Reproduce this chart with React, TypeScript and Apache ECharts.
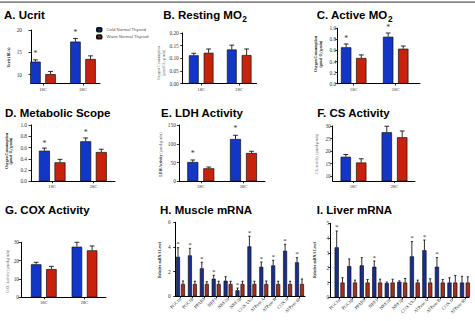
import React, { useEffect, useRef } from 'react';
import * as echarts from 'echarts';

// ---- categories ----
const tempGroups = ['18C', '28C'];
const genes = ['PGC1α', 'PGC1β', 'PPARδ', 'NRF1', 'NRF2α', 'NRF2β', 'COX Vb2', 'ATPase A', 'ATPase B', 'COX II', 'ATPase 6b'];

// ---- A. Ucrit (BL/s) ----
const ucritCold = [12.9, 17.4];
const ucritColdSem = [0.4, 0.7];
const ucritWarm = [10.1, 13.5];
const ucritWarmSem = [0.6, 0.7];
const ucritStars = [1, 1];
const ucritTicks = [10, 15, 20];

// ---- B. Resting MO2 ----
const restCold = [0.112, 0.135];
const restColdSem = [0.008, 0.017];
const restWarm = [0.122, 0.113];
const restWarmSem = [0.015, 0.024];
const restStars = [0, 0];
const restTicks = [0, 0.05, 0.1, 0.15, 0.2];

// ---- C. Active MO2 ----
const activeCold = [0.657, 0.848];
const activeColdSem = [0.06, 0.067];
const activeWarm = [0.464, 0.632];
const activeWarmSem = [0.056, 0.048];
const activeStars = [1, 1];
const fractionTicks = [0, 0.2, 0.4, 0.6, 0.8, 1.0];

// ---- D. Metabolic Scope ----
const scopeCold = [0.543, 0.71];
const scopeColdSem = [0.047, 0.06];
const scopeWarm = [0.337, 0.52];
const scopeWarmSem = [0.053, 0.05];
const scopeStars = [1, 1];

// ---- E. LDH Activity ----
const ldhCold = [51.4, 112.7];
const ldhColdSem = [5.4, 9.9];
const ldhWarm = [34.6, 75.4];
const ldhWarmSem = [3.4, 4.6];
const ldhStars = [1, 1];
const ldhTicks = [0, 50, 100, 150];

// ---- F. CS Activity ----
const csCold = [17.7, 27.5];
const csColdSem = [0.9, 2.4];
const csWarm = [15.4, 25.5];
const csWarmSem = [1.5, 2.5];
const csStars = [0, 0];
const csTicks = [10, 15, 20, 25, 30];

// ---- G. COX Activity ----
const coxCold = [18.0, 27.6];
const coxColdSem = [1.1, 2.4];
const coxWarm = [15.4, 25.6];
const coxWarmSem = [1.5, 2.4];
const coxStars = [0, 0];
const coxTicks = [0, 10, 20, 30];

// ---- H. Muscle mRNA ----
const muscleCold = [3.21, 3.32, 2.27, 1.43, 1.27, 0.49, 4.05, 2.4, 2.51, 3.7, 2.76];
const muscleColdSem = [0.73, 0.57, 0.49, 0.27, 0.32, 0.18, 0.82, 0.38, 0.41, 0.52, 0.37];
const muscleWarm = [1, 1, 1, 1, 1, 1, 1, 1, 1, 1, 1];
const muscleWarmSem = [0.24, 0.22, 0.18, 0.22, 0.22, 0.22, 0.22, 0.24, 0.22, 0.22, 0.4];
const muscleStars = [1, 1, 1, 1, 0, 1, 1, 1, 1, 1, 1];
const muscleTicks = [0, 2, 4, 6];

// ---- I. Liver mRNA ----
const liverCold = [3.38, 2.11, 2.16, 2.07, 0.97, 1.05, 2.77, 3.18, 2.07, 1.0, 1.0];
const liverColdSem = [1.1, 0.48, 0.52, 0.38, 0.06, 0.06, 0.99, 0.69, 0.61, 0.32, 0.42];
const liverWarm = [1, 1, 1, 1, 1, 1, 1, 1, 1, 1, 1];
const liverWarmSem = [0.32, 0.16, 0.2, 0.22, 0.22, 0.27, 0.16, 0.25, 0.2, 0.47, 0.38];
const liverStars = [1, 0, 0, 1, 0, 0, 1, 1, 1, 0, 0];
const liverTicks = [0, 1, 2, 3, 4, 5];

const SERIF = '"Liberation Serif", "Times New Roman", serif';
const SANS = '"Liberation Sans", Arial, Helvetica, sans-serif';
const TITLE_SIZE = 11.5;
const PALETTES = [
  ['#1237c6', '#c9220c'],
  ['#1a2e92', '#a82e1c'],
];

type Panel = {
  title: string; sub?: string; titleX: number; titleMid: number;
  yName: string; yNameX: number; yNameY: number; yNameBold: boolean; yNameRich?: boolean;
  cats: string[]; cold: number[]; coldSem: number[]; warm: number[]; warmSem: number[]; stars: number[];
  ymin: number; ymax: number; ticks: number[]; dec: number;
  left: number; right: number; top: number; bottom: number; c0: number; step: number;
  barW: number; gap: number; labelGap: number; starGap: number; cap: number; rotate?: number; palette: number;
};

const panels: Panel[] = [
  { title: 'A. Ucrit', titleX: 4, titleMid: 15, yName: 'Ucrit (BL/s)', yNameX: 8.7, yNameY: 57.5, yNameBold: true,
    cats: tempGroups, cold: ucritCold, coldSem: ucritColdSem, warm: ucritWarm, warmSem: ucritWarmSem, stars: ucritStars,
    ymin: 8, ymax: 20, ticks: ucritTicks, dec: 0,
    left: 31, right: 100, top: 30, bottom: 83.5, c0: 43, step: 40, barW: 10.5, gap: 4.6, labelGap: 9, starGap: 7, cap: 2.4, palette: 0 },
  { title: 'B. Resting MO', sub: '2', titleX: 163.3, titleMid: 15, yName: 'Oxygen Consumption\n(µmol O₂/g min)', yNameX: 161.7, yNameY: 63, yNameBold: false,
    cats: tempGroups, cold: restCold, coldSem: restColdSem, warm: restWarm, warmSem: restWarmSem, stars: restStars,
    ymin: 0, ymax: 0.2, ticks: restTicks, dec: 2,
    left: 182.7, right: 256.7, top: 33, bottom: 83.7, c0: 201.2, step: 38, barW: 9.8, gap: 5, labelGap: 4, starGap: 7, cap: 2.4, palette: 0 },
  { title: 'C. Active MO', sub: '2', titleX: 316.7, titleMid: 15, yName: 'Oxygen Consumption\n(µmol O₂/g min)', yNameX: 318.3, yNameY: 54, yNameBold: true,
    cats: tempGroups, cold: activeCold, coldSem: activeColdSem, warm: activeWarm, warmSem: activeWarmSem, stars: activeStars,
    ymin: 0, ymax: 1, ticks: fractionTicks, dec: 1,
    left: 337.7, right: 420, top: 28.3, bottom: 83.7, c0: 353.7, step: 42, barW: 10.4, gap: 4.7, labelGap: 1.5, starGap: 6.5, cap: 2.4, palette: 0 },
  { title: 'D. Metabolic Scope', titleX: 5, titleMid: 113.3, yName: 'Oxygen Consumption\n(µmol O₂/g min)', yNameX: 9.2, yNameY: 151, yNameBold: true,
    cats: tempGroups, cold: scopeCold, coldSem: scopeColdSem, warm: scopeWarm, warmSem: scopeWarmSem, stars: scopeStars,
    ymin: 0, ymax: 1, ticks: fractionTicks, dec: 1,
    left: 31, right: 115, top: 125, bottom: 181.3, c0: 52.2, step: 41.3, barW: 11, gap: 4.6, labelGap: 4, starGap: 6, cap: 2.4, palette: 0 },
  { title: 'E. LDH Activity', titleX: 161, titleMid: 113.3, yName: '{b|LDH Activity} {r|(µmol/g min)}', yNameX: 161, yNameY: 154.7, yNameBold: true, yNameRich: true,
    cats: tempGroups, cold: ldhCold, coldSem: ldhColdSem, warm: ldhWarm, warmSem: ldhWarmSem, stars: ldhStars,
    ymin: 0, ymax: 150, ticks: ldhTicks, dec: 0,
    left: 179.3, right: 265, top: 125, bottom: 181.3, c0: 200.8, step: 42.7, barW: 11, gap: 5, labelGap: 3.5, starGap: 7.5, cap: 2.4, palette: 0 },
  { title: 'F. CS Activity', titleX: 317.3, titleMid: 113.3, yName: 'CS Activity (µmol/g min)', yNameX: 317.3, yNameY: 154, yNameBold: false,
    cats: tempGroups, cold: csCold, coldSem: csColdSem, warm: csWarm, warmSem: csWarmSem, stars: csStars,
    ymin: 8, ymax: 30, ticks: csTicks, dec: 0,
    left: 332.7, right: 415, top: 126, bottom: 181, c0: 353.5, step: 41, barW: 10.4, gap: 5, labelGap: 2, starGap: 7, cap: 2.4, palette: 0 },
  { title: 'G. COX Activity', titleX: 5, titleMid: 210, yName: 'COX Activity (µmol/g min)', yNameX: 7.5, yNameY: 271.5, yNameBold: false,
    cats: tempGroups, cold: coxCold, coldSem: coxColdSem, warm: coxWarm, warmSem: coxWarmSem, stars: coxStars,
    ymin: 0, ymax: 30, ticks: coxTicks, dec: 0,
    left: 21, right: 106, top: 242.3, bottom: 297.3, c0: 43.8, step: 40.7, barW: 10.5, gap: 4.7, labelGap: 2, starGap: 7, cap: 2.4, palette: 0 },
  { title: 'H. Muscle mRNA', titleX: 160, titleMid: 210, yName: 'Relative mRNA Level', yNameX: 160.3, yNameY: 260, yNameBold: true,
    cats: genes, cold: muscleCold, coldSem: muscleColdSem, warm: muscleWarm, warmSem: muscleWarmSem, stars: muscleStars,
    ymin: 0, ymax: 6, ticks: muscleTicks, dec: 0,
    left: 175.7, right: 305, top: 222.3, bottom: 296.3, c0: 180.5, step: 11.9, barW: 4, gap: 1, labelGap: 5, starGap: 4.5, cap: 1.1, rotate: 45, palette: 1 },
  { title: 'I. Liver mRNA', titleX: 316.7, titleMid: 210, yName: 'Relative mRNA Level', yNameX: 315.3, yNameY: 260, yNameBold: true,
    cats: genes, cold: liverCold, coldSem: liverColdSem, warm: liverWarm, warmSem: liverWarmSem, stars: liverStars,
    ymin: 0, ymax: 5, ticks: liverTicks, dec: 0,
    left: 330.7, right: 469, top: 223.3, bottom: 297.3, c0: 339.6, step: 12.53, barW: 4.2, gap: 1.6, labelGap: 1.5, starGap: 4.5, cap: 1.1, rotate: 45, palette: 1 },
];

function measure(text: string, font: string): number {
  const ctx = document.createElement('canvas').getContext('2d');
  if (!ctx) return text.length * 6;
  ctx.font = font;
  return ctx.measureText(text).width;
}

function buildOption() {
  const grid: any[] = [];
  const xAxis: any[] = [];
  const yAxis: any[] = [];
  const series: any[] = [];
  const graphic: any[] = [
    { type: 'line', shape: { x1: 0, y1: 2.2, x2: 475, y2: 2.2 }, style: { stroke: '#5a5a5a', lineWidth: 1.2 }, silent: true },
  ];

  panels.forEach((p, i) => {
    const idx = p.cats.map((_, k) => k);
    const [blue, red] = PALETTES[p.palette];
    grid.push({ left: p.left, top: p.top, width: p.right - p.left, height: p.bottom - p.top });
    xAxis.push({
      type: 'value', gridIndex: i,
      min: (p.left - p.c0) / p.step, max: (p.right - p.c0) / p.step,
      splitLine: { show: false },
      axisLine: { show: true, onZero: false, lineStyle: { color: '#000', width: 1 } },
      axisTick: { show: true, customValues: idx, length: 2, lineStyle: { color: '#000', width: 0.8 } },
      axisLabel: {
        customValues: idx, formatter: (v: number) => p.cats[Math.round(v)] ?? '',
        fontFamily: SERIF, fontSize: 4.6, color: '#333', margin: p.rotate ? 2 : 3, rotate: p.rotate ?? 0,
      },
    });
    yAxis.push({
      type: 'value', gridIndex: i, min: p.ymin, max: p.ymax,
      splitLine: { show: false },
      axisLine: { show: true, onZero: false, lineStyle: { color: '#000', width: 1 } },
      axisTick: { show: true, customValues: p.ticks, length: 2.5, lineStyle: { color: '#000', width: 0.8 } },
      axisLabel: {
        customValues: p.ticks, formatter: (v: number) => v.toFixed(p.dec),
        fontFamily: SERIF, fontSize: 5.3, color: '#333', margin: p.labelGap,
      },
    });

    const gapPct = (p.gap / p.barW) * 100 + '%';
    series.push({
      type: 'bar', name: 'Cold Normal Thyroid', xAxisIndex: i, yAxisIndex: i, silent: true,
      data: p.cold.map((v, k) => [k, v]), barWidth: p.barW, barGap: gapPct, clip: true,
      itemStyle: { color: blue, borderColor: '#111', borderWidth: 0.7 },
    });
    series.push({
      type: 'bar', name: 'Warm Normal Thyroid', xAxisIndex: i, yAxisIndex: i, silent: true,
      data: p.warm.map((v, k) => [k, v]), barWidth: p.barW, barGap: gapPct, clip: true,
      itemStyle: { color: red, borderColor: '#111', borderWidth: 0.7 },
    });

    // error bars: upper whisker with cap
    const half = (p.barW + p.gap) / 2;
    const groups: [number[], number[], number][] = [
      [p.cold, p.coldSem, -half],
      [p.warm, p.warmSem, half],
    ];
    groups.forEach(([vals, sems, dx], gi) => {
      series.push({
        type: 'custom', name: gi === 0 ? 'cold-sem' : 'warm-sem', xAxisIndex: i, yAxisIndex: i, silent: true, z: 3,
        clip: false,
        encode: { x: 0, y: 1 },
        data: vals.map((v, k) => [k, v, sems[k]]),
        renderItem: (_params: any, api: any) => {
          const k = api.value(0);
          const v = api.value(1);
          const e = api.value(2);
          const b = api.coord([k, v]);
          const t = api.coord([k, v + e]);
          const cx = b[0] + dx;
          const st = { stroke: '#151515', lineWidth: 0.9 };
          return {
            type: 'group',
            children: [
              { type: 'line', shape: { x1: cx, y1: b[1], x2: cx, y2: t[1] }, style: st },
              { type: 'line', shape: { x1: cx - p.cap, y1: t[1], x2: cx + p.cap, y2: t[1] }, style: st },
            ],
          };
        },
      });
    });

    // panel heading
    const titleFont = `bold ${TITLE_SIZE}px "Liberation Sans"`;
    graphic.push({
      type: 'text', x: p.titleX, y: p.titleMid, silent: true,
      style: { text: p.title, fontFamily: SANS, fontWeight: 'bold', fontSize: TITLE_SIZE, fill: '#000', align: 'left', verticalAlign: 'middle' },
    });
    if (p.sub) {
      const w = measure(p.title, titleFont);
      graphic.push({
        type: 'text', x: p.titleX + w + 0.3, y: p.titleMid + 4, silent: true,
        style: { text: p.sub, fontFamily: SANS, fontWeight: 'bold', fontSize: 8.3, fill: '#000', align: 'left', verticalAlign: 'middle' },
      });
    }

    // value-axis title
    const nameStyle: any = {
      text: p.yName, fontFamily: SERIF, fontSize: 3.9, lineHeight: 4.6,
      fontWeight: p.yNameBold ? 'bold' : 'normal', fill: p.yNameBold ? '#111' : '#555',
      align: 'center', verticalAlign: 'middle',
    };
    if (p.yNameRich) {
      nameStyle.rich = {
        b: { fontFamily: SERIF, fontSize: 3.9, fontWeight: 'bold', fill: '#111' },
        r: { fontFamily: SERIF, fontSize: 3.9, fontWeight: 'normal', fill: '#555' },
      };
    }
    graphic.push({ type: 'text', x: p.yNameX, y: p.yNameY, rotation: Math.PI / 2, silent: true, style: nameStyle });
  });

  return {
    animation: false,
    backgroundColor: '#ffffff',
    legend: {
      data: ['Cold Normal Thyroid', 'Warm Normal Thyroid'],
      orient: 'vertical', left: 96, top: 27, itemWidth: 4.5, itemHeight: 3.4, itemGap: 1.8,
      padding: 0, selectedMode: false,
      textStyle: { fontFamily: SANS, fontSize: 4.3, color: '#555', lineHeight: 4.6 },
    },
    grid, xAxis, yAxis, series, graphic,
  };
}

// significance asterisks above the cold-group whiskers, placed through each grid's scales
function starGraphics(chart: echarts.ECharts) {
  const out: any[] = [];
  panels.forEach((p, i) => {
    const half = (p.barW + p.gap) / 2;
    p.stars.forEach((s, k) => {
      if (!s) return;
      const pt = chart.convertToPixel({ gridIndex: i } as any, [k, p.cold[k] + p.coldSem[k]]) as number[];
      if (!pt) return;
      out.push({
        type: 'text', x: pt[0] - half, y: pt[1] - p.starGap + 1, silent: true, z: 10,
        style: { text: '*', fontFamily: SERIF, fontSize: p.rotate ? 7 : 7.8, fill: '#333', align: 'center', verticalAlign: 'middle' },
      });
    });
  });
  return out;
}

export default function App() {
  const ref = useRef<HTMLDivElement>(null);
  useEffect(() => {
    document.body.style.margin = '0';
    if (!ref.current) return;
    const chart = echarts.init(ref.current, null, { renderer: 'svg' });
    const option: any = buildOption();
    chart.setOption(option);
    const base = option.graphic as any[];
    chart.setOption({ graphic: [...base, ...starGraphics(chart)] });
    return () => chart.dispose();
  }, []);
  return <div ref={ref} style={{ width: 475, height: 321 }} />;
}
